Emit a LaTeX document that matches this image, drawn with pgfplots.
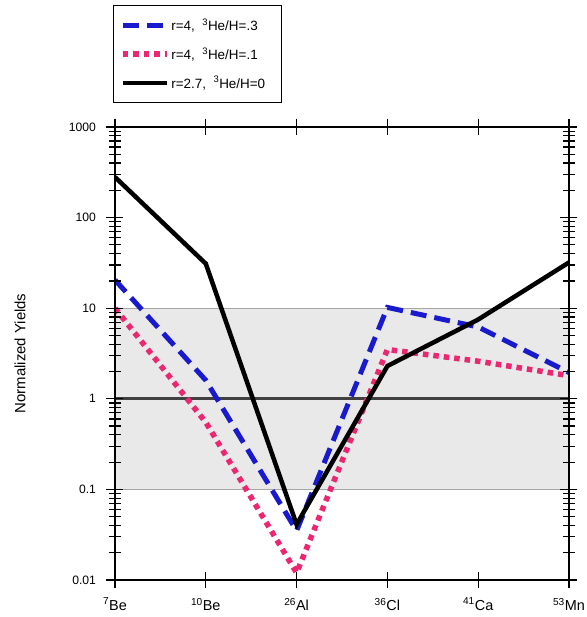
\documentclass[border=0pt]{standalone}
\usepackage{pgfplots}
\pgfplotsset{compat=1.18}
\usepackage{fontspec}
\setmainfont{Liberation Sans}
\definecolor{dashblue}{RGB}{25,25,205}
\definecolor{dotpink}{RGB}{236,38,112}
\definecolor{bandgray}{RGB}{233,233,233}

\begin{document}
\begin{tikzpicture}
\path[use as bounding box] (-115bp,-37bp) rectangle (472bp,580bp);
\begin{axis}[
  scale only axis, width=454bp, height=453bp,
  xmin=0, xmax=5, ymode=log, ymin=0.01, ymax=1000,
  xtick={0,1,2,3,4,5},
  xticklabels={\textsuperscript{7}Be,\textsuperscript{10}Be,\textsuperscript{26}Al,\textsuperscript{36}Cl,\textsuperscript{41}Ca,\textsuperscript{53}Mn},
  ytick={0.01,0.1,1,10,100,1000},
  yticklabels={0.01,0.1,1,10,100,1000},
  tick align=center,
  major tick length=17bp, minor tick length=12bp,
  every tick/.style={black, line width=1.2bp},
  axis line style={line width=1.3bp},
  xticklabel style={font=\fontsize{14.5}{16}\selectfont, yshift=-6bp},
  yticklabel style={font=\fontsize{12.2}{14}\selectfont, xshift=-7bp},
  ylabel={Normalized Yields},
  ylabel style={font=\fontsize{15}{17}\selectfont, at={(axis description cs:-0.209,0.5)}, anchor=center},
  axis on top,
  legend style={at={(axis description cs:-0.004,1.269)}, anchor=north west,
    draw=black, line width=1.2bp, font=\fontsize{13.5}{15}\selectfont,
    inner xsep=6bp, inner ysep=11bp, row sep=11.5bp},
  legend cell align=left,
  legend image code/.code={\draw[#1] (0bp,0bp) -- (44bp,0bp);},
]
% shaded band between 0.1 and 10
\addplot[fill=bandgray, draw=none, forget plot] coordinates {(0,0.1) (5,0.1) (5,10) (0,10)} -- cycle;
\addplot[gray!70, line width=1bp, forget plot] coordinates {(0,10) (5,10)};
\addplot[gray!70, line width=1bp, forget plot] coordinates {(0,0.1) (5,0.1)};
\addplot[black!75, line width=2.8bp, forget plot] coordinates {(0,1) (5,1)};

\addplot[dashblue, line width=5bp, dash pattern=on 16bp off 8bp] coordinates {
(0,20.5) (1,1.6) (2,0.035) (3,10.2) (4,6.2) (5,1.95)};
\addlegendentry{r=4,\ \ \textsuperscript{3}He/H=.3\hspace*{16bp}}
\addplot[dotpink, line width=5.5bp, dash pattern=on 5.5bp off 5bp] coordinates {
(0,10) (1,0.55) (2,0.012) (3,3.5) (4,2.6) (5,1.8)};
\addlegendentry{r=4,\ \ \textsuperscript{3}He/H=.1}
\addplot[black, line width=4.5bp] coordinates {
(0,280) (1,31) (2,0.041) (3,2.3) (4,7.5) (5,32)};
\addlegendentry{r=2.7,\ \ \textsuperscript{3}He/H=0}
\end{axis}
\end{tikzpicture}
\end{document}
